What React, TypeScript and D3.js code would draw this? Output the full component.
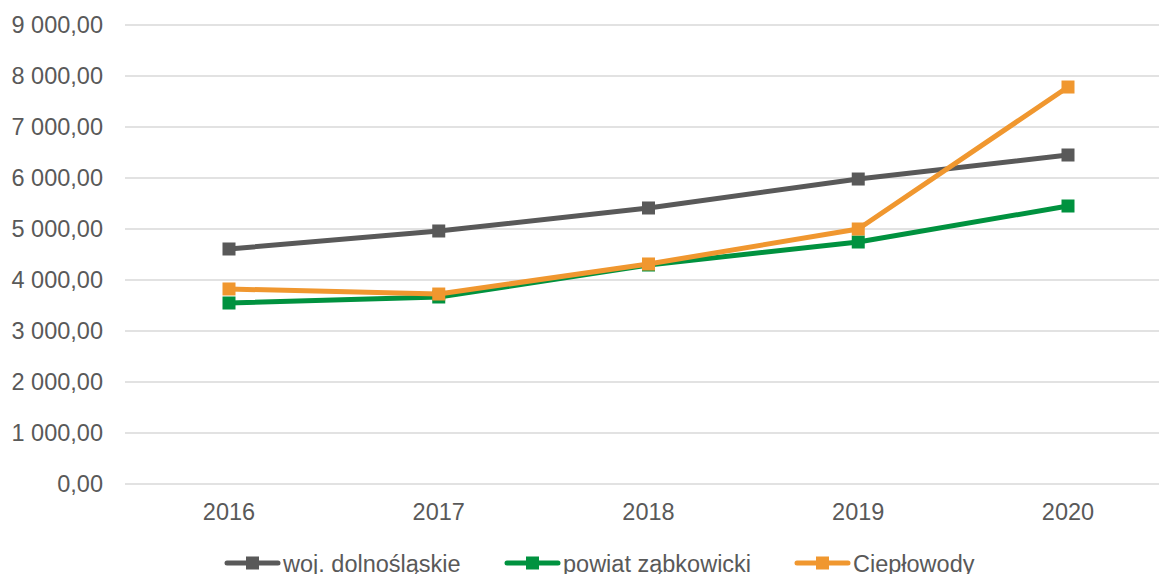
import * as d3 from 'd3'
import React, { useEffect, useRef } from 'react'

const years = ['2016', '2017', '2018', '2019', '2020']
const yTicks = [0, 1000, 2000, 3000, 4000, 5000, 6000, 7000, 8000, 9000]

const wojValues = [4608, 4961, 5412, 5980, 6451]
const powiatValues = [3549, 3667, 4294, 4745, 5451]
const cieplowodyValues = [3824, 3725, 4314, 5000, 7784]

const seriesNames = ['woj. dolnośląskie', 'powiat ząbkowicki', 'Ciepłowody']
const seriesColors = ['#595959', '#00923f', '#f0972f']

const W = 1159
const H = 574
const FONT = '"Liberation Sans", Arial, sans-serif'

const fmt = (v: number) => {
  const s = d3.format(',.2f')(v)
  return s.replace(/,/g, ' ').replace('.', ',')
}

export default function App() {
  const svgRef = useRef<SVGSVGElement | null>(null)

  useEffect(() => {
    const svg = d3.select(svgRef.current)
    svg.selectAll('*').remove()

    const x = d3.scalePoint<string>().domain(years).range([229, 1068])
    const y = d3.scaleLinear().domain([0, 9000]).range([484, 25])

    // grid
    svg
      .append('g')
      .selectAll('line')
      .data(yTicks)
      .enter()
      .append('line')
      .attr('x1', 125)
      .attr('x2', W)
      .attr('y1', (d) => y(d))
      .attr('y2', (d) => y(d))
      .attr('stroke', '#d9d9d9')
      .attr('stroke-width', 1.5)

    // y labels
    svg
      .append('g')
      .selectAll('text')
      .data(yTicks)
      .enter()
      .append('text')
      .attr('x', 103)
      .attr('y', (d) => y(d))
      .attr('dy', '0.35em')
      .attr('text-anchor', 'end')
      .attr('font-family', FONT)
      .attr('font-size', 23.5)
      .attr('fill', '#595959')
      .text((d) => fmt(d))

    // x labels
    svg
      .append('g')
      .selectAll('text')
      .data(years)
      .enter()
      .append('text')
      .attr('x', (d) => x(d) ?? 0)
      .attr('y', 520)
      .attr('text-anchor', 'middle')
      .attr('font-family', FONT)
      .attr('font-size', 23.5)
      .attr('fill', '#595959')
      .text((d) => d)

    const allSeries = [wojValues, powiatValues, cieplowodyValues]
    const line = d3
      .line<number>()
      .x((_, i) => x(years[i]) ?? 0)
      .y((d) => y(d))

    allSeries.forEach((vals, si) => {
      const g = svg.append('g')
      g.append('path')
        .attr('d', line(vals) ?? '')
        .attr('fill', 'none')
        .attr('stroke', seriesColors[si])
        .attr('stroke-width', 5)
        .attr('stroke-linejoin', 'round')
        .attr('stroke-linecap', 'round')
      g.selectAll('rect')
        .data(vals)
        .enter()
        .append('rect')
        .attr('x', (_, i) => (x(years[i]) ?? 0) - 6.5)
        .attr('y', (d) => y(d) - 6.5)
        .attr('width', 13)
        .attr('height', 13)
        .attr('fill', seriesColors[si])
    })

    // legend
    const legendX = [225, 505, 795]
    const lg = svg
      .append('g')
      .selectAll('g')
      .data(seriesNames)
      .enter()
      .append('g')
      .attr('transform', (_, i) => `translate(${legendX[i]},563)`)
    lg.append('line')
      .attr('x1', 2)
      .attr('x2', 53)
      .attr('stroke', (_, i) => seriesColors[i])
      .attr('stroke-width', 5)
      .attr('stroke-linecap', 'round')
    lg.append('rect')
      .attr('x', 21)
      .attr('y', -6.5)
      .attr('width', 13)
      .attr('height', 13)
      .attr('fill', (_, i) => seriesColors[i])
    lg.append('text')
      .attr('x', 58)
      .attr('y', 9)
      .attr('font-family', FONT)
      .attr('font-size', 23.5)
      .attr('fill', '#595959')
      .text((d) => d)
  }, [])

  return (
    <svg
      ref={svgRef}
      width={W}
      height={H}
      style={{ position: 'absolute', left: 0, top: 0, background: '#fff' }}
    ></svg>
  )
}
